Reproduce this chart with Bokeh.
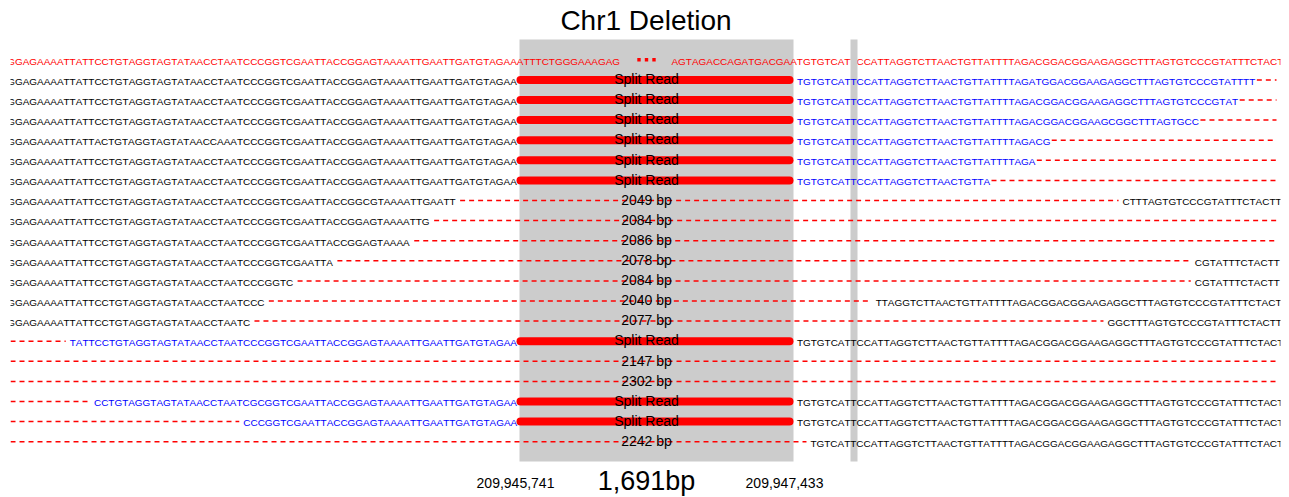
from bokeh.plotting import figure
from bokeh.models import Range1d, ColumnDataSource, InlineStyleSheet
from bokeh.embed import file_html
from bokeh.resources import INLINE
from bokeh.core.properties import value

# ---------------- data ----------------
TITLE = "Chr1 Deletion"
DEL_START = 209945741
DEL_END = 209947433

REF_LEFT = "GGAGAAAATTATTCCTGTAGGTAGTATAACCTAATCCCGGTCGAATTACCGGAGTAAAATTGAATTGATGTAGAA"
REF_DEL_LEFT = "ATTTCTGGGAAAGAG"
REF_DEL_RIGHT = "AGTAGACCAGATGACGAA"
REF_RIGHT = "TGTGTCATTCCATTAGGTCTTAACTGTTATTTTAGACGGACGGAAGAGGCTTTAGTGTCCCGTATTTCTACTT"

read_kind = ["split"] * 6 + ["gap"] * 7 + ["split", "gap", "gap", "split", "split", "gap"]

read_left = [
    "GGAGAAAATTATTCCTGTAGGTAGTATAACCTAATCCCGGTCGAATTACCGGAGTAAAATTGAATTGATGTAGAA",
    "GGAGAAAATTATTCCTGTAGGTAGTATAACCTAATCCCGGTCGAATTACCGGAGTAAAATTGAATTGATGTAGAA",
    "GGAGAAAATTATTCCTGTAGGTAGTATAACCTAATCCCGGTCGAATTACCGGAGTAAAATTGAATTGATGTAGAA",
    "GGAGAAAATTATTACTGTAGGTAGTATAACCAAATCCCGGTCGAATTACCGGAGTAAAATTGAATTGATGTAGAA",
    "GGAGAAAATTATTCCTGTAGGTAGTATAACCTAATCCCGGTCGAATTACCGGAGTAAAATTGAATTGATGTAGAA",
    "GGAGAAAATTATTCCTGTAGGTAGTATAACCTAATCCCGGTCGAATTACCGGAGTAAAATTGAATTGATGTAGAA",
    "GGAGAAAATTATTCCTGTAGGTAGTATAACCTAATCCCGGTCGAATTACCGGCGTAAAATTGAATT",
    "GGAGAAAATTATTCCTGTAGGTAGTATAACCTAATCCCGGTCGAATTACCGGAGTAAAATTG",
    "GGAGAAAATTATTCCTGTAGGTAGTATAACCTAATCCCGGTCGAATTACCGGAGTAAAA",
    "GGAGAAAATTATTCCTGTAGGTAGTATAACCTAATCCCGGTCGAATTA",
    "GGAGAAAATTATTCCTGTAGGTAGTATAACCTAATCCCGGTC",
    "GGAGAAAATTATTCCTGTAGGTAGTATAACCTAATCCC",
    "GGAGAAAATTATTCCTGTAGGTAGTATAACCTAATC",
    "TATTCCTGTAGGTAGTATAACCTAATCCCGGTCGAATTACCGGAGTAAAATTGAATTGATGTAGAA",
    "",
    "",
    "CCTGTAGGTAGTATAACCTAATCGCGGTCGAATTACCGGAGTAAAATTGAATTGATGTAGAA",
    "CCCGGTCGAATTACCGGAGTAAAATTGAATTGATGTAGAA",
    "",
]
read_left_anchor = ["bp"] * 6 + ["start"] * 7 + ["bp", "", "", "bp", "bp", ""]
read_left_color = ["black"] * 13 + ["blue", "black", "black", "blue", "blue", "black"]

read_right = [
    "TGTGTCATTCCATTAGGTCTTAACTGTTATTTTAGATGGACGGAAGAGGCTTTAGTGTCCCGTATTTT",
    "TGTGTCATTCCATTAGGTCTTAACTGTTATTTTAGACGGACGGAAGAGGCTTTAGTGTCCCGTAT",
    "TGTGTCATTCCATTAGGTCTTAACTGTTATTTTAGACGGACGGAAGCGGCTTTAGTGCC",
    "TGTGTCATTCCATTAGGTCTTAACTGTTATTTTAGACG",
    "TGTGTCATTCCATTAGGTCTTAACTGTTATTTTAGA",
    "TGTGTCATTCCATTAGGTCTTAACTGTTA",
    "CTTTAGTGTCCCGTATTTCTACTT",
    "",
    "",
    "CGTATTTCTACTT",
    "CGTATTTCTACTT",
    "TTAGGTCTTAACTGTTATTTTAGACGGACGGAAGAGGCTTTAGTGTCCCGTATTTCTACTT",
    "GGCTTTAGTGTCCCGTATTTCTACTT",
    "TGTGTCATTCCATTAGGTCTTAACTGTTATTTTAGACGGACGGAAGAGGCTTTAGTGTCCCGTATTTCTACTT",
    "",
    "",
    "TGTGTCATTCCATTAGGTCTTAACTGTTATTTTAGACGGACGGAAGAGGCTTTAGTGTCCCGTATTTCTACTT",
    "TGTGTCATTCCATTAGGTCTTAACTGTTATTTTAGACGGACGGAAGAGGCTTTAGTGTCCCGTATTTCTACTT",
    "TGTCATTCCATTAGGTCTTAACTGTTATTTTAGACGGACGGAAGAGGCTTTAGTGTCCCGTATTTCTACTT",
]
read_right_anchor = ["bp"] * 6 + ["end", "", "", "end", "end", "end", "end",
                                  "bp", "", "", "bp", "bp", "end"]
read_right_color = ["blue"] * 6 + ["black"] * 13

gap_sizes = [2049, 2084, 2086, 2078, 2084, 2040, 2077, 2147, 2302, 2242]

# ---------------- layout / style ----------------
FONT = value("Liberation Sans")
FS = 9.95
ADV = {"A": 0.667, "C": 0.722, "G": 0.778, "T": 0.611}


def tw(s):
    return sum(ADV[c] for c in s) * FS


W, H = 1289, 497
X0, X1 = 10, 1280
ROW0, ROW_H = 59.3, 20.1
BP_L, BP_R = 517.0, 796.5
BOX_L, BOX_R, BOX_T, BOX_B = 519, 793, 39, 461
BAR_L, BAR_R = 850, 857
SPLIT_X0, SPLIT_X1 = 520, 789
LABEL_X = 646
DASH_END = 1276
GAP = 4
SUFFIX_SCALE = 0.975
SEQ_DY = 1.3
LAB_DY = -0.8
RED, BLUE, GRAY = "#ff0000", "#0000ff", "#cccccc"

start_x = BP_L - tw(REF_LEFT)
full_right_w = tw(REF_RIGHT)


def row_y(i):
    return ROW0 + ROW_H * i


NOKERN = ("font-kerning: none; font-feature-settings: 'kern' 0; "
          "text-rendering: optimizeSpeed;")
p = figure(width=W, height=H, output_backend="svg", toolbar_location=None,
           x_range=Range1d(X0, X1), y_range=Range1d(H, 0),
           x_axis_location=None, y_axis_location=None,
           min_border=0, min_border_left=X0, min_border_right=W - X1)
p.grid.visible = False
p.outline_line_color = None
p.background_fill_color = "white"
p.stylesheets = [InlineStyleSheet(css=":host, :host *, svg, text { " + NOKERN + " }")]

seq_kw = dict(text_font=FONT, text_font_size=f"{FS}px", text_align="left",
              text_baseline="alphabetic")

# deletion box
p.quad(left=[BOX_L], right=[BOX_R], top=[BOX_T], bottom=[BOX_B],
       fill_color=GRAY, line_color=None)

# reference row
y0 = row_y(0)
p.text(x=[start_x, BP_R - tw(REF_DEL_RIGHT)], y=[y0 + SEQ_DY] * 2,
       text=[REF_LEFT + REF_DEL_LEFT, REF_DEL_RIGHT + REF_RIGHT],
       text_color=RED, **seq_kw)
p.scatter(x=[LABEL_X - 7.5, LABEL_X, LABEL_X + 7.5], y=[y0] * 3, marker="square",
          size=3.4, fill_color=RED, line_color=None)

# breakpoint bar
p.quad(left=[BAR_L], right=[BAR_R], top=[BOX_T], bottom=[BOX_B],
       fill_color=GRAY, line_color=None)

# reads
color_map = {"black": "#000000", "blue": BLUE}
seqs = dict(x=[], y=[], text=[], color=[])
dash = dict(x0=[], x1=[], y=[])
split = dict(x0=[], x1=[], y=[])
lab = dict(x=[], y=[], text=[])
gi = 0
for k in range(len(read_kind)):
    y = row_y(k + 1)
    L, R = read_left[k], read_right[k]
    la, ra = read_left_anchor[k], read_right_anchor[k]
    ls = le = rs = re = None
    if L:
        if la == "start":
            ls = start_x
        else:
            ls = BP_L - tw(L)
        le = ls + tw(L)
        seqs["x"].append(ls); seqs["y"].append(y + SEQ_DY)
        seqs["text"].append(L); seqs["color"].append(color_map[read_left_color[k]])
    if R:
        if ra == "bp":
            rs = BP_R
        else:
            rs = BP_R + SUFFIX_SCALE * (full_right_w - tw(R))
        re = rs + tw(R)
        seqs["x"].append(rs); seqs["y"].append(y + SEQ_DY)
        seqs["text"].append(R); seqs["color"].append(color_map[read_right_color[k]])

    if L and la == "bp" and ls - GAP > X0:
        dash["x0"].append(X0); dash["x1"].append(ls - GAP); dash["y"].append(y)
    if read_kind[k] == "gap":
        a = le + GAP if L else X0
        b = rs - GAP if R else DASH_END
        dash["x0"].append(a); dash["x1"].append(b); dash["y"].append(y)
        lab["x"].append(LABEL_X); lab["y"].append(y + LAB_DY)
        lab["text"].append(f"{gap_sizes[gi]} bp")
        gi += 1
    else:
        split["x0"].append(SPLIT_X0); split["x1"].append(SPLIT_X1); split["y"].append(y)
        lab["x"].append(LABEL_X); lab["y"].append(y + LAB_DY)
        lab["text"].append("Split Read")
        if R and re + 1 < DASH_END:
            dash["x0"].append(re + 1); dash["x1"].append(DASH_END); dash["y"].append(y)

p.segment(x0="x0", x1="x1", y0="y", y1="y", source=ColumnDataSource(dash),
          line_color=RED, line_width=1.5, line_dash="5 4")
p.segment(x0="x0", x1="x1", y0="y", y1="y", source=ColumnDataSource(split),
          line_color=RED, line_width=8, line_cap="round")

p.text(x="x", y="y", text="text", source=ColumnDataSource(seqs),
       text_color="color", **seq_kw)

p.text(x="x", y="y", text="text", source=ColumnDataSource(lab),
       text_font=FONT, text_font_size="14px", text_color="#000000",
       text_align="center", text_baseline="alphabetic")

# bottom coordinates
p.text(x=[515, 784], y=[482, 482], text=[f"{DEL_START:,}", f"{DEL_END:,}"],
       text_font=FONT, text_font_size="14px", text_color="#000000",
       text_align="center", text_baseline="alphabetic")
p.text(x=[LABEL_X], y=[480.2], text=[f"{DEL_END - DEL_START - 1:,}bp"],
       text_font=FONT, text_font_size="27px", text_color="#000000",
       text_align="center", text_baseline="alphabetic")

# title
p.text(x=[645.5], y=[20.2], text=[TITLE], text_font=FONT, text_font_size="28px",
       text_color="#000000", text_align="center", text_baseline="alphabetic")

open("out.html", "w").write(file_html(p, INLINE))
